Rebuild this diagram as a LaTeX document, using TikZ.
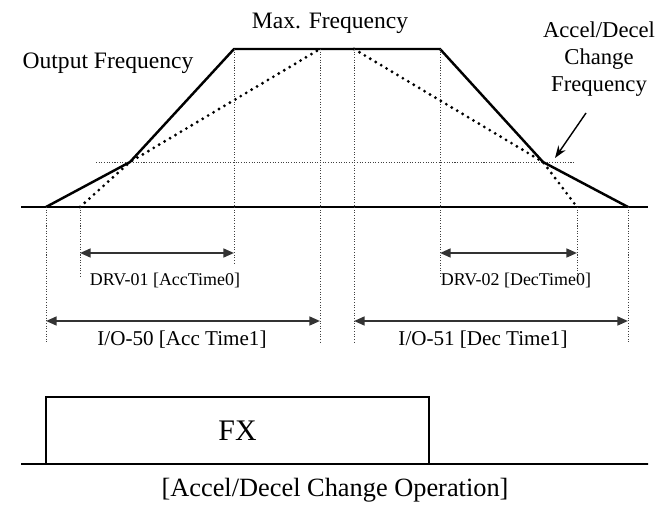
\documentclass[tikz,border=0pt]{standalone}
\usepackage{fontspec}
\setmainfont{Liberation Serif}
\usetikzlibrary{arrows.meta,positioning,calc}

\begin{document}
\begin{tikzpicture}[>=Stealth,
    curve/.style={line width=1.4pt,line join=miter},
    ideal/.style={line width=1.8pt,line cap=round,dash pattern=on 0pt off 3.6pt},
    guide/.style={line width=0.5pt,dash pattern=on 0.6pt off 0.9pt,black!75},
    axis/.style={line width=1.1pt},
    span/.style={{Triangle[length=6pt,width=5pt]}-{Triangle[length=6pt,width=5pt]},line width=1.1pt,black!80},
    pointer/.style={-{Stealth[length=7pt,width=5pt]},line width=0.8pt},
    lbl/.style={inner sep=0pt,font=\fontsize{13.4pt}{15.6pt}\selectfont,align=center},
    small/.style={inner sep=0pt,font=\fontsize{10.2pt}{12pt}\selectfont},
    mid/.style={inner sep=0pt,font=\fontsize{12pt}{14pt}\selectfont},
    fxbox/.style={draw,line width=1.1pt,outer sep=0pt,minimum width=7.66cm,minimum height=1.34cm,inner sep=0pt,font=\fontsize{17pt}{20pt}\selectfont},
  ]
  \useasboundingbox (0,0) rectangle (13.26,10.10);
  % output frequency profile
  \coordinate (b0) at (0.42,5.96);
  \coordinate (b1) at (12.96,5.96);
  \coordinate (s0) at (0.92,5.96);
  \coordinate (c0) at (2.60,6.86);
  \coordinate (t0) at (4.68,9.12);
  \coordinate (t1) at (8.80,9.12);
  \coordinate (c1) at (10.86,6.86);
  \coordinate (s1) at (12.56,5.96);
  \coordinate (d0) at (1.60,5.96);
  \coordinate (m0) at (6.40,9.12);
  \coordinate (m1) at (7.08,9.12);
  \coordinate (d1) at (11.54,5.96);
  \coordinate (h0) at (1.92,6.86);
  \coordinate (h1) at (11.50,6.86);
  \draw[axis] (b0) -- (b1);
  \draw[guide] (h0) -- (h1);
  \draw[ideal] (d0) -- (c0) -- (m0);
  \draw[ideal] (m1) -- (c1) -- (d1);
  \draw[curve] (s0) -- (c0) -- (t0) -- (t1) -- (c1) -- (s1);
  % time marks
  \coordinate (g0) at (0.92,3.24);
  \coordinate (g1) at (1.60,4.58);
  \coordinate (g2) at (4.68,4.80);
  \coordinate (g3) at (6.40,3.24);
  \coordinate (g4) at (7.08,3.24);
  \coordinate (g5) at (8.80,4.58);
  \coordinate (g6) at (11.54,4.58);
  \coordinate (g7) at (12.56,3.24);
  \draw[guide] (s0) -- (g0);
  \draw[guide] (d0) -- (g1);
  \draw[guide] (t0) -- (g2);
  \draw[guide] (m0) -- (g3);
  \draw[guide] (m1) -- (g4);
  \draw[guide] (t1) -- (g5);
  \draw[guide] (d1) -- (g6);
  \draw[guide] (s1) -- (g7);
  \coordinate (a0) at (1.60,5.04);
  \coordinate (a1) at (4.68,5.04);
  \coordinate (a2) at (8.80,5.04);
  \coordinate (a3) at (11.54,5.04);
  \coordinate (a4) at (0.92,3.68);
  \coordinate (a5) at (6.40,3.68);
  \coordinate (a6) at (7.08,3.68);
  \coordinate (a7) at (12.56,3.68);
  \draw[span] (a0) -- (a1);
  \draw[span] (a2) -- (a3);
  \draw[span] (a4) -- (a5);
  \draw[span] (a6) -- (a7);
  \node[small] (drv1) at (3.30,4.50) {DRV-01 [AccTime0]};
  \node[small] (drv2) at (10.32,4.50) {DRV-02 [DecTime0]};
  \node[mid] (io50) at (3.64,3.30) {I/O-50 [Acc Time1]};
  \node[mid] (io51) at (9.66,3.30) {I/O-51 [Dec Time1]};
  \node[lbl] (fmax) at (6.60,9.64) {Max. Frequency};
  \node[lbl] (fout) at (2.16,8.84) {Output Frequency};
  \node[lbl,font=\fontsize{12.9pt}{15.6pt}\selectfont] (chg) at (11.98,8.92) {Accel/Decel\\Change\\Frequency};
  \coordinate (p0) at (11.72,7.84);
  \coordinate (p1) at (11.10,6.94);
  \draw[pointer] (p0) -- (p1);
  % run command
  \coordinate (l0) at (0.42,0.82);
  \coordinate (l1) at (12.96,0.82);
  \node[fxbox] (fx) at (4.75,1.49) {FX};
  \draw[axis] (l0) -- (fx.south west);
  \draw[axis] (fx.south east) -- (l1);
  \node[inner sep=0pt,font=\fontsize{15pt}{18pt}\selectfont] (cap) at (6.70,0.30) {[Accel/Decel Change Operation]};
\end{tikzpicture}
\end{document}
